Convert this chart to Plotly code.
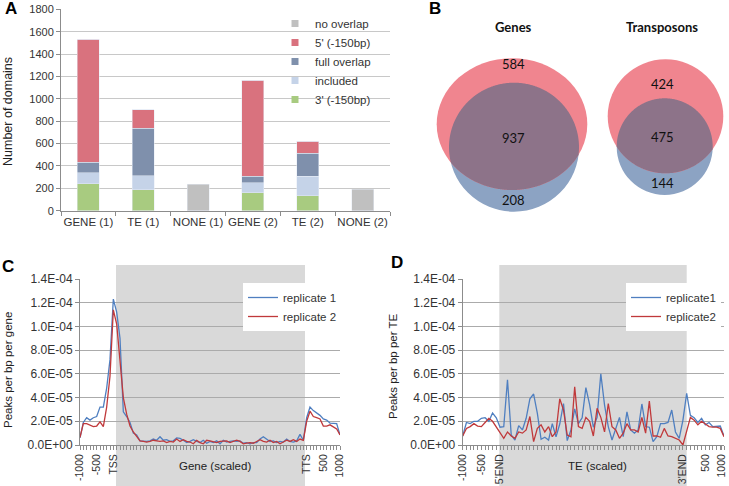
import numpy as np
import plotly.graph_objects as go

# ---------------- Panel A data ----------------
categories = ["GENE (1)", "TE (1)", "NONE (1)", "GENE (2)", "TE (2)", "NONE (2)"]
three_prime = [240, 188, 0, 160, 135, 0]
included = [97, 125, 0, 90, 175, 0]
full_overlap = [98, 425, 0, 60, 205, 0]
five_prime = [1097, 165, 0, 855, 105, 0]
no_overlap = [0, 0, 235, 0, 0, 190]

bar_series = [
    ("3' (-150bp)", three_prime, "#A8CB80"),
    ("included", included, "#C5D3E8"),
    ("full overlap", full_overlap, "#7F90AC"),
    ("5' (-150bp)", five_prime, "#D9727E"),
    ("no overlap", no_overlap, "#C0C0C0"),
]

# ---------------- Panel B data ----------------
venn_titles = ["Genes", "Transposons"]
gene_counts = [584, 937, 208]
te_counts = [424, 475, 144]

# ---------------- Panel C data (units of 1E-05) ----------------
gene_rep1 = [0.6, 1.9, 2.3, 2.1, 2.3, 2.4, 3.2, 3.2, 4.8, 7.2, 12.3,
             11.2, 9.0, 2.8, 2.4, 1.9, 1.0, 0.85, 0.35,
             0.3, 0.3, 0.35, 0.5, 0.4, 0.7, 0.4, 0.45, 0.3, 0.35,
             0.6, 0.55, 0.4, 0.2, 0.3, 0.45, 0.3, 0.2, 0.4, 0.15,
             0.3, 0.2, 0.35, 0.1, 0.4, 0.25, 0.3, 0.35, 0.3, 0.35,
             0.15, 0.2, 0.1, 0.2, 0.2, 0.5, 0.7, 0.5, 0.3, 0.35,
             0.2, 0.3, 0.25, 0.5, 0.3, 0.25, 0.35,
             0.9, 0.4, 2.3, 3.2, 2.9, 2.7, 2.5, 2.2, 2.1, 1.85, 1.8, 1.8, 0.85]
gene_rep2 = [0.65, 1.8, 1.8, 1.65, 1.55, 1.6, 1.95, 1.55, 3.2, 5.8, 11.4,
             10.2, 7.0, 4.0, 2.6, 1.6, 1.1, 0.75, 0.35,
             0.3, 0.25, 0.3, 0.4, 0.35, 0.3, 0.35, 0.2, 0.3, 0.25,
             0.5, 0.3, 0.45, 0.3, 0.25, 0.1, 0.4, 0.2, 0.1, 0.4,
             0.35, 0.3, 0.2, 0.3, 0.3, 0.35, 0.2, 0.3, 0.4, 0.3,
             0.1, 0.15, 0.2, 0.15, 0.3, 0.45, 0.3, 0.25, 0.4, 0.2,
             0.3, 0.1, 0.25, 0.4, 0.3, 0.45, 0.3,
             0.5, 0.4, 2.0, 2.85, 2.4, 2.3, 2.2, 1.6, 1.6, 1.7, 1.55, 1.35, 0.85]
gene_tick_pos = [0, 5, 10, 68, 73, 78]
gene_tick_text = ["-1000", "-500", "TSS", "TTS", "500", "1000"]

# ---------------- Panel D data (units of 1E-05) ----------------
te_rep1 = [0.76, 1.9, 1.8, 2.0, 2.0, 2.25, 2.3, 2.0, 2.7, 2.3, 1.5, 1.55, 5.5,
           0.85, 0.42, 1.63, 1.27, 2.25, 3.9, 4.3, 2.67, 0.48, 0.65, 0.42, 1.8,
           0.7, 1.77, 3.5, 0.37, 1.27, 3.04, 1.8, 2.3, 4.84, 3.4, 1.5, 2.33, 6.0,
           3.37, 1.55, 0.42, 1.4, 2.33, 0.7, 2.8, 1.27, 1.0, 1.27, 3.46, 1.55,
           1.5, 0.28, 0.7, 1.8, 1.8, 1.9, 2.95, 1.1, 0.56, 2.1, 4.36, 2.5, 2.3,
           1.9, 2.25, 1.7, 1.9, 1.55, 1.55, 1.6, 0.76]
te_rep2 = [0.76, 1.4, 1.55, 1.8, 1.6, 1.55, 1.9, 2.25, 2.0, 1.55, 1.1, 0.56, 1.1,
           0.76, 0.56, 1.1, 1.0, 1.27, 2.4, 0.28, 1.4, 1.7, 1.1, 1.55, 0.7, 1.1,
           3.9, 2.95, 0.84, 0.7, 4.9, 1.55, 1.4, 2.33, 2.0, 0.76, 3.1, 2.33, 1.1,
           3.5, 1.55, 1.27, 0.56, 1.0, 1.8, 1.27, 1.27, 1.1, 2.33, 1.0, 3.7, 0.76,
           0.76, 0.65, 1.4, 0.76, 0.7, 0.56, 0.42, 0.0, 1.27, 2.33, 2.1, 1.7, 2.0,
           1.8, 1.55, 1.5, 1.5, 1.4, 0.7]
te_tick_pos = [0, 5, 10, 59, 65, 69.3]
te_tick_text = ["-1000", "-500", "5'END", "3'END", "500", "1000"]

y_tick_vals = [0, 2e-5, 4e-5, 6e-5, 8e-5, 1e-4, 1.2e-4, 1.4e-4]
y_tick_text = ["0.0E+00", "2.0E-05", "4.0E-05", "6.0E-05", "8.0E-05",
               "1.0E-04", "1.2E-04", "1.4E-04"]

W, H = 729, 486
FONT = "Liberation Sans, Arial, sans-serif"
TICK_FONT = dict(family=FONT, size=11, color="#333333")
BLUE_LINE = "#4F7FC0"
RED_LINE = "#C0393B"
AXIS_GREY = "#8C8C8C"


def px_x(p):
    return p / W


def px_y(p):
    return 1 - p / H


fig = go.Figure()

# ---- A: stacked bars ----
for name, vals, color in bar_series:
    fig.add_trace(go.Bar(x=categories, y=vals, marker_color=color, width=0.4,
                         showlegend=False, xaxis="x", yaxis="y"))
    # small square legend markers
    fig.add_trace(go.Scatter(x=[None], y=[None], mode="markers", name=name,
                             marker=dict(symbol="square", size=7, color=color),
                             xaxis="x", yaxis="y", legend="legend"))

# ---- C: gene profiles ----
fig.add_trace(go.Scatter(x=np.arange(len(gene_rep1)), y=np.array(gene_rep1) * 1e-5,
                         mode="lines", name="replicate 1", line=dict(color=BLUE_LINE, width=1.3),
                         xaxis="x3", yaxis="y3", legend="legend2"))
fig.add_trace(go.Scatter(x=np.arange(len(gene_rep2)), y=np.array(gene_rep2) * 1e-5,
                         mode="lines", name="replicate 2", line=dict(color=RED_LINE, width=1.3),
                         xaxis="x3", yaxis="y3", legend="legend2"))

# ---- D: TE profiles ----
fig.add_trace(go.Scatter(x=np.arange(len(te_rep1)), y=np.array(te_rep1) * 1e-5,
                         mode="lines", name="replicate1", line=dict(color=BLUE_LINE, width=1.3),
                         xaxis="x4", yaxis="y4", legend="legend3"))
fig.add_trace(go.Scatter(x=np.arange(len(te_rep2)), y=np.array(te_rep2) * 1e-5,
                         mode="lines", name="replicate2", line=dict(color=RED_LINE, width=1.3),
                         xaxis="x4", yaxis="y4", legend="legend3"))

shapes = []
# grey body bands behind panels C and D
for x0, x1 in [(116, 305), (499.3, 686.7)]:
    shapes.append(dict(type="rect", xref="paper", yref="paper", layer="below",
                       x0=px_x(x0), x1=px_x(x1), y0=0, y1=px_y(265),
                       fillcolor="#D9D9D9", line=dict(width=0)))

# ---- B: Venn diagrams (pixel-space axes) ----
venn_pink = [(436.7, 58.3, 587.3, 190.0), (607.7, 59.3, 723.3, 173.3)]
venn_blue = [(449.0, 82.7, 579.0, 211.7), (616.7, 98.3, 712.7, 195.0)]
PINK, BLUEV, PURPLE = "#F0858F", "#8CA3C3", "#8D7389"


def ell(box):
    x0, y0, x1, y1 = box
    return (x0 + x1) / 2, (y0 + y1) / 2, (x1 - x0) / 2, (y1 - y0) / 2


for pbox, bbox in zip(venn_pink, venn_blue):
    shapes.append(dict(type="circle", xref="x2", yref="y2", x0=bbox[0], y0=bbox[1],
                       x1=bbox[2], y1=bbox[3], fillcolor=BLUEV, line=dict(width=0)))
    shapes.append(dict(type="circle", xref="x2", yref="y2", x0=pbox[0], y0=pbox[1],
                       x1=pbox[2], y1=pbox[3], fillcolor=PINK, line=dict(width=0)))
    # lens of the overlap
    pc = ell(pbox)
    bc = ell(bbox)
    t = np.linspace(0, 2 * np.pi, 720, endpoint=False)
    px_, py_ = pc[0] + pc[2] * np.cos(t), pc[1] + pc[3] * np.sin(t)
    bx_, by_ = bc[0] + bc[2] * np.cos(t), bc[1] + bc[3] * np.sin(t)
    in_b = ((px_ - bc[0]) / bc[2]) ** 2 + ((py_ - bc[1]) / bc[3]) ** 2 <= 1
    in_p = ((bx_ - pc[0]) / pc[2]) ** 2 + ((by_ - pc[1]) / pc[3]) ** 2 <= 1
    lx = np.concatenate([px_[in_b], bx_[in_p]])
    ly = np.concatenate([py_[in_b], by_[in_p]])
    ang = np.arctan2(ly - ly.mean(), lx - lx.mean())
    order = np.argsort(ang)
    path = "M " + " L ".join(f"{a:.2f},{b:.2f}" for a, b in zip(lx[order], ly[order])) + " Z"
    shapes.append(dict(type="path", xref="x2", yref="y2", path=path,
                       fillcolor=PURPLE, line=dict(width=0)))

annotations = []
VENN_FONT = dict(family="Lato, Noto Sans, sans-serif", size=13, color="#111111")
venn_cx = [513, 662]
venn_label_y = [[64.3, 137.7, 200.0], [84.3, 136.7, 183.3]]
for title, counts, cx, ys in zip(venn_titles, [gene_counts, te_counts], venn_cx, venn_label_y):
    annotations.append(dict(text=f"<b>{title}</b>", x=cx, y=27, xref="x2", yref="y2",
                            showarrow=False, font=VENN_FONT))
    for c, yy in zip(counts, ys):
        annotations.append(dict(text=str(c), x=cx, y=yy, xref="x2", yref="y2",
                                showarrow=False, font=VENN_FONT))

CENTER = dict(xref="paper", yref="paper", xanchor="center", yanchor="middle", showarrow=False)

# panel letters
for letter, lx, ly in [("A", 11, 8), ("B", 435, 8), ("C", 8, 266), ("D", 397, 262)]:
    annotations.append(dict(CENTER, text=f"<b>{letter}</b>", x=px_x(lx), y=px_y(ly),
                            font=dict(family=FONT, size=17, color="black")))

# axis titles
for txt, lx, ly, fs in [("Number of domains", 8, 112, 12.5),
                        ("Peaks per bp per gene", 8, 370, 11.5),
                        ("Peaks per bp per TE", 393, 366, 11.5)]:
    annotations.append(dict(CENTER, text=txt, x=px_x(lx), y=px_y(ly), textangle=-90,
                            font=dict(family=FONT, size=fs, color="#222222")))
for txt, lx, ly in [("Gene (scaled)", 215, 466), ("TE (scaled)", 597, 466)]:
    annotations.append(dict(CENTER, text=txt, x=px_x(lx), y=px_y(ly),
                            font=dict(family=FONT, size=11.5, color="#222222")))

profile_y = dict(domain=[px_y(445), px_y(279)], range=[0, 1.4e-4], tickvals=y_tick_vals,
                 ticktext=y_tick_text, tickfont=dict(family=FONT, size=12, color="#333333"),
                 showgrid=True, gridcolor="#ABABAB", gridwidth=1, showline=True,
                 linecolor=AXIS_GREY, ticks="outside", ticklen=4, tickcolor=AXIS_GREY,
                 zeroline=False, automargin=False)


def profile_x(domain, n, tpos, ttext):
    return dict(domain=domain, range=[0, n - 1], tickvals=tpos, ticktext=ttext,
                tickangle=-90, tickfont=dict(family=FONT, size=10.5, color="#333333"),
                showgrid=False, zeroline=False, automargin=False,
                showline=True, linecolor=AXIS_GREY, ticks="outside", ticklen=4,
                tickcolor=AXIS_GREY,
                minor=dict(ticks="outside", dtick=1, tick0=0, ticklen=4,
                           tickcolor=AXIS_GREY, showgrid=False))


fig.update_layout(
    width=W, height=H, margin=dict(l=0, r=0, t=0, b=0, autoexpand=False),
    paper_bgcolor="white", plot_bgcolor="rgba(0,0,0,0)",
    barmode="stack", bargap=0.6,
    font=dict(family=FONT, size=11, color="#333333"),
    xaxis=dict(domain=[px_x(61), px_x(390)], tickfont=dict(family=FONT, size=11.5, color="#333333"),
               showline=True, linecolor=AXIS_GREY, ticks="outside", tickson="boundaries",
               ticklen=4, tickcolor=AXIS_GREY, showgrid=False, tickangle=0, automargin=False),
    yaxis=dict(domain=[px_y(210.7), px_y(9.3)], range=[0, 1800], dtick=200,
               tickfont=TICK_FONT, showgrid=True, gridcolor="#C8C8C8", showline=True,
               linecolor=AXIS_GREY, ticks="outside", ticklen=4, tickcolor=AXIS_GREY,
               zeroline=False, automargin=False),
    xaxis2=dict(domain=[px_x(400), 1], range=[400, 729], visible=False, automargin=False),
    yaxis2=dict(domain=[px_y(240), 1], range=[240, 0], visible=False, automargin=False),
    xaxis3=profile_x([px_x(80), px_x(340)], len(gene_rep1), gene_tick_pos, gene_tick_text),
    yaxis3=dict(profile_y, anchor="x3"),
    xaxis4=profile_x([px_x(462.7), px_x(724)], len(te_rep1), te_tick_pos, te_tick_text),
    yaxis4=dict(profile_y, anchor="x4"),
    legend=dict(x=px_x(275), y=px_y(9), xanchor="left", yanchor="top",
                bgcolor="rgba(0,0,0,0)", traceorder="reversed",
                font=dict(family=FONT, size=11.5, color="#333333")),
    legend2=dict(x=px_x(243), y=px_y(283), xanchor="left", yanchor="top",
                 bgcolor="white", font=dict(family=FONT, size=11.5, color="#333333")),
    legend3=dict(x=px_x(626), y=px_y(283), xanchor="left", yanchor="top",
                 bgcolor="white", font=dict(family=FONT, size=11.5, color="#333333")),
    shapes=shapes,
    annotations=annotations,
)
fig.update_layout(xaxis3_anchor="y3", xaxis4_anchor="y4", xaxis2_anchor="y2")

# the page body has a default margin; remove it so the figure fills the window
fig.write_html("out.html", config={"displayModeBar": False},
               post_script="document.body.style.margin='0px';")
